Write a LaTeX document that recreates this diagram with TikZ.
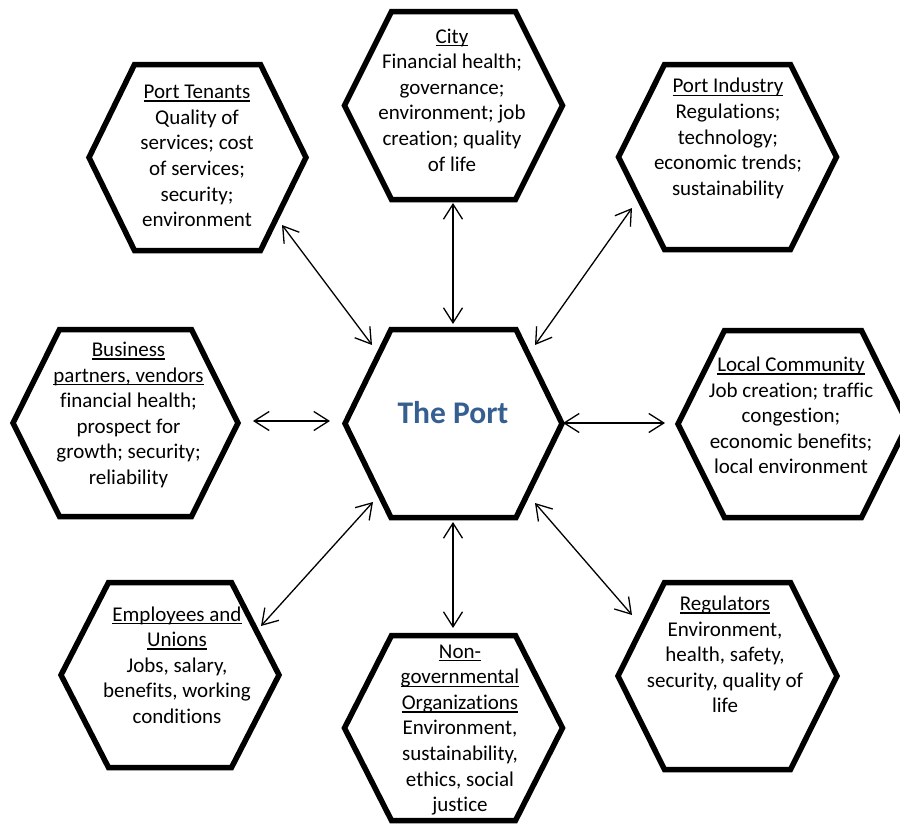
\documentclass[tikz,border=0pt]{standalone}
\usepackage{fontspec}
\setmainfont{Carlito}[Ligatures=NoCommon]
\usetikzlibrary{arrows.meta}
\definecolor{portblue}{RGB}{54,95,145}
\newcommand\ul[1]{\setbox0\hbox{#1}\rlap{\rule[-3.2pt]{\wd0}{1.4pt}}\box0}
% cx cy W T H
\newcommand\hexdraw[5]{%
  \draw[hexline] ({#1-#3},#2) -- ({#1-#4},{#2-#5}) -- ({#1+#4},{#2-#5}) --
    ({#1+#3},#2) -- ({#1+#4},{#2+#5}) -- ({#1-#4},{#2+#5}) -- cycle;}
\tikzset{
  hexline/.style={line width=5.5pt, line join=miter, draw=black},
  lbl/.style={align=center, font=\fontsize{21}{25.6}\selectfont, inner sep=0pt},
  conn/.style={line width=1.3pt, <->, >={Straight Barb[length=15pt,width=19pt]}}
}
\begin{document}
\begin{tikzpicture}[x=1pt,y=-1pt]
\useasboundingbox (0,0) rectangle (900,827);
\clip (0,0) rectangle (900,827);
% hexagons
\hexdraw{197.5}{157.5}{108.5}{63}{93}
\hexdraw{453.5}{105.5}{109}{62}{94}
\hexdraw{727.5}{157}{109}{63}{92.5}
\hexdraw{125.5}{423}{112.5}{66}{93.5}
\hexdraw{453.5}{423.5}{108.5}{62.5}{94}
\hexdraw{793}{424}{115}{68.5}{93.5}
\hexdraw{170}{675}{109}{61.5}{92.5}
\hexdraw{453.5}{728}{109}{62}{92.5}
\hexdraw{727.5}{676}{109.5}{63}{93.5}
% texts
\node[lbl] (tenants) at (197,156) {\ul{Port Tenants}\\Quality of\\services; cost\\of services;\\security;\\environment};
\node[lbl] (city) at (452,100) {\ul{City}\\Financial health;\\governance;\\environment; job\\creation; quality\\of life};
\node[lbl] (industry) at (728,138.5) {\ul{Port Industry}\\Regulations;\\technology;\\economic trends;\\sustainability};
\node[lbl] (business) at (128.5,415) {\ul{Business}\\\ul{partners, vendors}\\financial health;\\prospect for\\growth; security;\\reliability};
\node[inner sep=0pt, font=\fontsize{31.5}{36}\selectfont\bfseries, text=portblue] (port) at (453,413) {The Port};
\node[lbl] (community) at (791,415.5) {\ul{Local Community}\\Job creation; traffic\\congestion;\\economic benefits;\\local environment};
\node[lbl] (employees) at (177,665) {\ul{Employees and}\\\ul{Unions}\\Jobs, salary,\\benefits, working\\conditions};
\node[lbl] (ngo) at (460,730) {\ul{Non-}\\\ul{governmental}\\\ul{Organizations}\\Environment,\\sustainability,\\ethics, social\\justice};
\node[lbl] (regulators) at (725,654.5) {\ul{Regulators}\\Environment,\\health, safety,\\security, quality of\\life};
% connector end points
\coordinate (tenantsE) at (282,225);   \coordinate (portTL) at (372,345);
\coordinate (cityE) at (453,203);      \coordinate (portT) at (453,324);
\coordinate (industryE) at (632,208);  \coordinate (portTR) at (535,345);
\coordinate (businessE) at (253,421);  \coordinate (portL) at (330,421);
\coordinate (communityE) at (665,423); \coordinate (portR) at (563,423);
\coordinate (employeesE) at (261,626); \coordinate (portBL) at (373,502);
\coordinate (ngoE) at (453,628);       \coordinate (portB) at (453,522);
\coordinate (regulatorsE) at (632,615);\coordinate (portBR) at (535,503);
% connectors
\draw[conn] (tenantsE) -- (portTL);
\draw[conn] (cityE) -- (portT);
\draw[conn] (industryE) -- (portTR);
\draw[conn] (businessE) -- (portL);
\draw[conn] (communityE) -- (portR);
\draw[conn] (employeesE) -- (portBL);
\draw[conn] (ngoE) -- (portB);
\draw[conn] (regulatorsE) -- (portBR);
\end{tikzpicture}
\end{document}
